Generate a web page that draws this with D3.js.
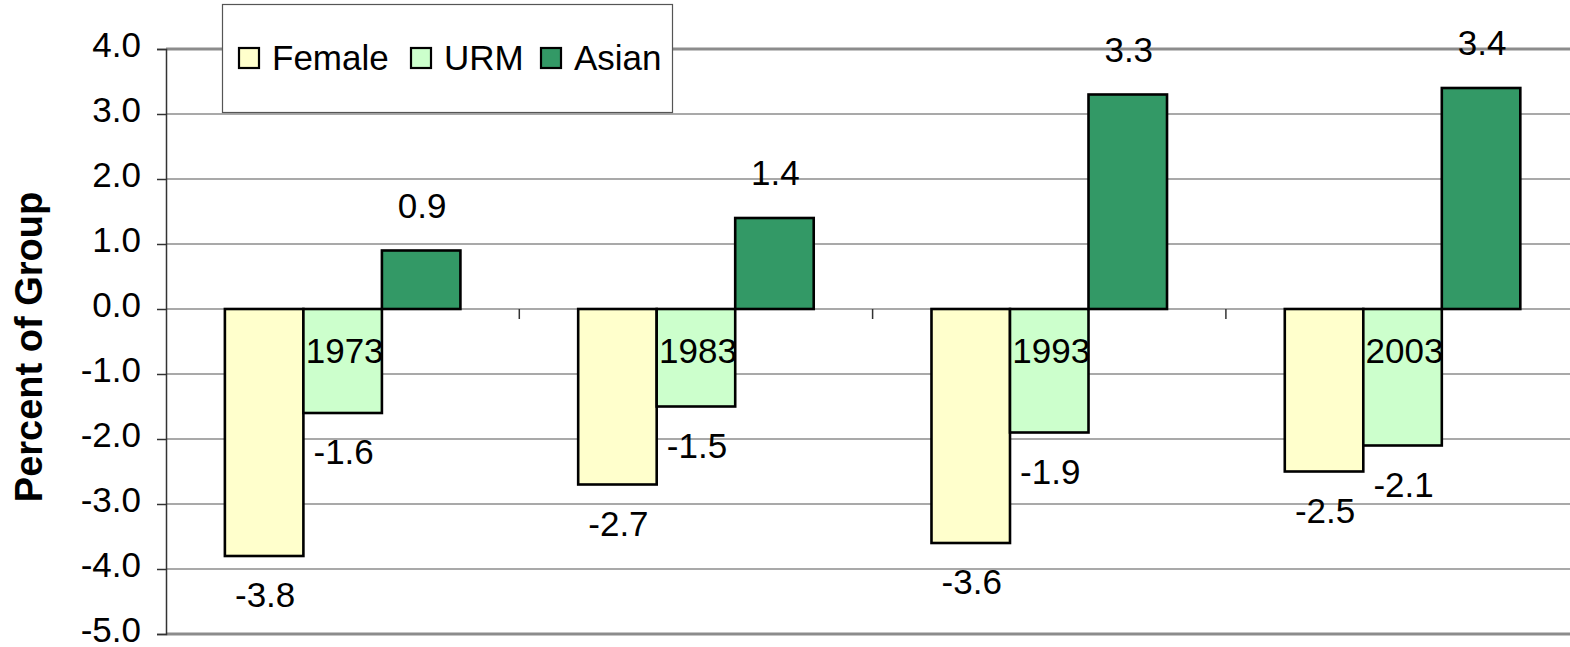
<!DOCTYPE html>
<html>
<head>
<meta charset="utf-8">
<script src="https://cdn.jsdelivr.net/npm/d3@7"></script>
<style>
  html, body { margin: 0; padding: 0; background: #fff; }
  svg { display: block; }
  text { font-family: "Liberation Sans", Arial, sans-serif; fill: #000; }
</style>
</head>
<body>
<svg id="chart" width="1570" height="647"></svg>
<script>
// ---- data ----
const categories = ["1973", "1983", "1993", "2003"];
const seriesNames = ["Female", "URM", "Asian"];
const femaleValues = [-3.8, -2.7, -3.6, -2.5];
const urmValues = [-1.6, -1.5, -1.9, -2.1];
const asianValues = [0.9, 1.4, 3.3, 3.4];
const yTickValues = [4, 3, 2, 1, 0, -1, -2, -3, -4, -5];
const yAxisTitle = "Percent of Group";

const seriesValues = [femaleValues, urmValues, asianValues];
const seriesColors = ["#FFFFCC", "#CCFFCC", "#339966"];

// ---- layout ----
const W = 1570, H = 647;
const plotLeft = 166, plotTop = 49, plotBottom = 634;
const step = 353.3;
const plotRight = plotLeft + step * categories.length;
const fontSize = 35;

const svg = d3.select("#chart");

const y = d3.scaleLinear().domain([-5, 4]).range([plotBottom, plotTop]);
const x0 = d3.scaleBand().domain(categories).range([plotLeft, plotRight])
  .paddingInner(1/3).paddingOuter(1/6);
const x1 = d3.scaleBand().domain(seriesNames).range([0, x0.bandwidth()]).padding(0);

// gridlines
svg.append("g").selectAll("line")
  .data(yTickValues.filter(v => v !== 4 && v !== -5))
  .join("line")
  .attr("x1", plotLeft).attr("x2", W)
  .attr("y1", d => y(d)).attr("y2", d => y(d))
  .attr("stroke", "#555").attr("stroke-width", 1.2);

// plot area top/bottom borders
[4, -5].forEach(v => {
  svg.append("line")
    .attr("x1", plotLeft).attr("x2", W)
    .attr("y1", y(v)).attr("y2", y(v))
    .attr("stroke", "#8c8c8c").attr("stroke-width", 3);
});

// y axis
const yAxis = d3.axisLeft(y).tickValues(yTickValues).tickSize(9).tickPadding(16)
  .tickFormat(d3.format(".1f"));
const yG = svg.append("g").attr("transform", `translate(${plotLeft},0)`).call(yAxis);
yG.select(".domain").attr("stroke", "#333").attr("stroke-width", 1.5);
yG.selectAll(".tick line").attr("stroke", "#333").attr("stroke-width", 1.5);
yG.selectAll(".tick text")
  .attr("font-size", fontSize)
  .attr("font-family", "Liberation Sans, Arial, sans-serif")
  .attr("fill", "#000")
  .attr("dy", null)
  .attr("y", 7)
  .text(d => d3.format(".1f")(d).replace("−", "-"));

// category axis ticks at boundaries on zero line
const boundaries = categories.slice(1).map((c, i) => plotLeft + step * (i + 1));
svg.append("g").selectAll("line").data(boundaries).join("line")
  .attr("x1", d => d).attr("x2", d => d)
  .attr("y1", y(0)).attr("y2", y(0) + 10)
  .attr("stroke", "#333").attr("stroke-width", 1.5);

// bars
const groups = svg.append("g").selectAll("g").data(categories).join("g")
  .attr("transform", d => `translate(${x0(d)},0)`);

seriesNames.forEach((s, si) => {
  groups.append("rect")
    .attr("x", x1(s))
    .attr("width", x1.bandwidth())
    .attr("y", (c, ci) => y(Math.max(0, seriesValues[si][ci])))
    .attr("height", (c, ci) => Math.abs(y(seriesValues[si][ci]) - y(0)))
    .attr("fill", seriesColors[si])
    .attr("stroke", "#000")
    .attr("stroke-width", 2.6);
});

// category labels
groups.append("text")
  .attr("x", x0.bandwidth() / 2 + 2)
  .attr("y", y(0) + 54)
  .attr("text-anchor", "middle")
  .attr("font-size", fontSize)
  .text(d => d);

// value labels
seriesNames.forEach((s, si) => {
  groups.append("text")
    .attr("x", x1(s) + x1.bandwidth() / 2 + 1)
    .attr("y", (c, ci) => {
      const v = seriesValues[si][ci];
      return v >= 0 ? y(v) - 33 : y(v) + 51;
    })
    .attr("text-anchor", "middle")
    .attr("font-size", fontSize)
    .text((c, ci) => d3.format(".1f")(seriesValues[si][ci]).replace("−", "-"));
});

// y axis title
svg.append("text")
  .attr("transform", "translate(42,347) rotate(-90)")
  .attr("text-anchor", "middle")
  .attr("font-size", 38)
  .attr("font-weight", "bold")
  .text(yAxisTitle);

// legend
const legend = svg.append("g");
legend.append("rect")
  .attr("x", 222.5).attr("y", 4.5).attr("width", 450).attr("height", 108)
  .attr("fill", "#fff").attr("stroke", "#555").attr("stroke-width", 1.2);
const legendX = [239, 411, 541];
seriesNames.forEach((s, i) => {
  legend.append("rect")
    .attr("x", legendX[i]).attr("y", 48).attr("width", 20).attr("height", 20)
    .attr("fill", seriesColors[i]).attr("stroke", "#000").attr("stroke-width", 2.2);
  legend.append("text")
    .attr("x", legendX[i] + 33).attr("y", 70)
    .attr("font-size", fontSize)
    .text(s);
});
</script>
</body>
</html>
